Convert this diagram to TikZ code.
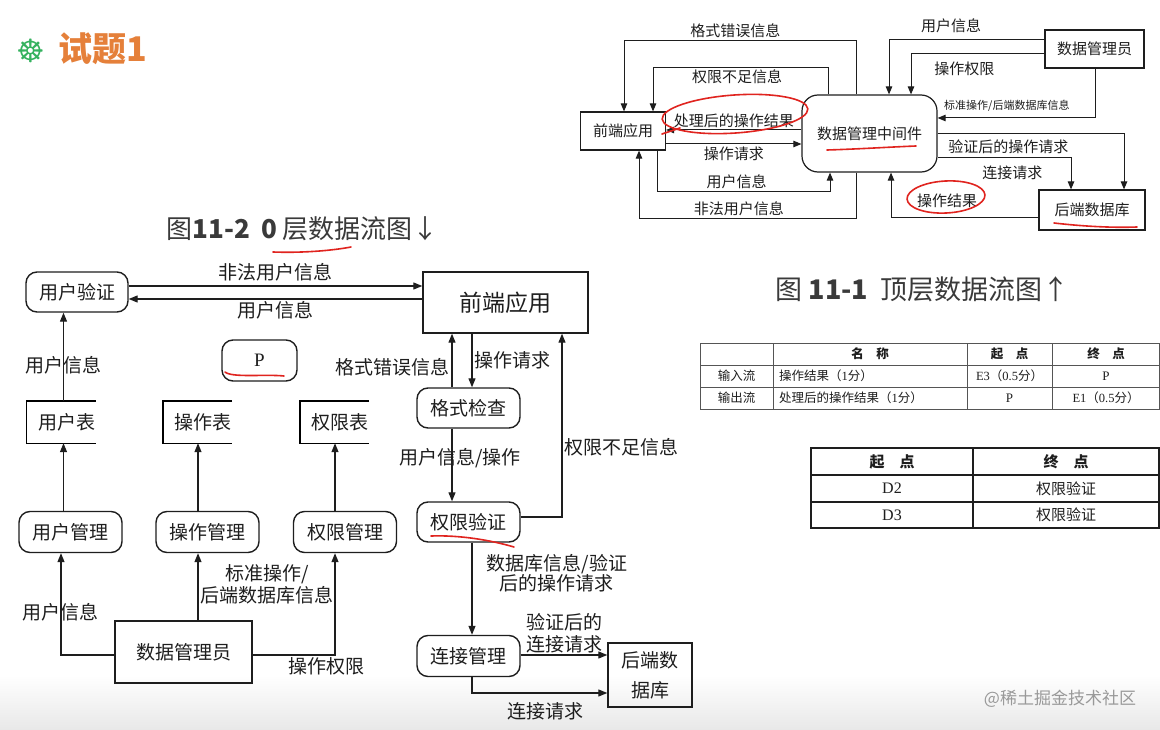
\documentclass[tikz,border=0pt]{standalone}
\usepackage{fontspec}
\setmainfont{Noto Sans CJK SC}
\newfontfamily\latserif{Liberation Serif}
\newfontfamily\symfont{DejaVu Sans}
\usetikzlibrary{arrows.meta,calc}
\definecolor{ink}{HTML}{1E1E1E}
\definecolor{pen}{HTML}{E0241F}
\definecolor{titleorange}{HTML}{E5803A}
\definecolor{wheelgreen}{HTML}{35B25F}
\definecolor{caption}{HTML}{3A3A3A}
\definecolor{rule}{HTML}{555555}
\newcommand\fpt[2]{\fontsize{#1}{#2}\selectfont}

\begin{document}
\begin{tikzpicture}[x=1pt,y=-1pt,text=ink,>={Triangle[length=9pt,width=7pt]},
  box/.style={draw=ink,line width=1.4pt,inner sep=0pt,font=\fpt{19}{22}},
  proc/.style={box,rounded corners=11pt,minimum width=103pt,minimum height=41pt},
  ent/.style={box},
  store/.style={font=\fpt{19}{22},minimum width=58pt,minimum height=42pt,inner xsep=0pt},
  flow/.style={draw=ink,line width=1.2pt,->},
  lbl/.style={font=\fpt{19}{22},align=center,inner sep=2pt},
  tbox/.style={draw=ink,line width=1.2pt,inner sep=0pt,font=\fpt{15}{18}},
  tflow/.style={draw=ink,line width=1pt,-{Triangle[length=8pt,width=6.5pt]}},
  tlbl/.style={font=\fpt{15}{18},inner sep=2pt},
  redpen/.style={draw=pen,line width=1.6pt,line cap=round},
  cellA/.style={font=\fpt{12.5}{15},inner sep=1pt},
  cellB/.style={font=\fpt{15}{18},inner sep=1pt}]
  \useasboundingbox (0,0) rectangle (1160,730);
  \fill[white] (0,0) rectangle (1160,730);
  \shade[top color=white,bottom color=black!9] (0,675) rectangle (1160,730);

  % heading and captions
  \node[wheelgreen,font=\symfont\fpt{32}{32}] (wheel) at (31,51) {☸};
  \node[anchor=west,titleorange,font=\fpt{34}{36}\bfseries] (title) at (55,49) {试题1};
  \node[anchor=west,caption,font=\fpt{26}{30}] (cap2) at (163,229) {图\textbf{11-2\ \ 0}\,层数据流图↓};
  \node[anchor=west,caption,font=\fpt{27}{30}] (cap1) at (772,289) {图 \textbf{11-1}\ \ 顶层数据流图↑};

  % level-0 diagram
  \node[proc,minimum width=102pt,minimum height=40pt] (uv) at (77,292) {用户验证};
  \node[ent,minimum width=165pt,minimum height=61pt,font=\fpt{23}{26}] (fe) at (505.5,302.5) {前端应用};
  \node[proc,minimum width=75pt,font=\latserif\fpt{19}{22}] (p) at (259.5,360.5) {P};
  \node[store] (ut) at (66.5,422) {用户表};
  \node[store] (ot) at (203,422) {操作表};
  \node[store] (rt) at (340,422) {权限表};
  \foreach \s in {ut,ot,rt}
    \draw[line width=1.4pt] (\s.north east) -- ([xshift=-11pt]\s.north west) -- ([xshift=-11pt]\s.south west) -- (\s.south east);
  \node[proc] (um) at (70.5,532) {用户管理};
  \node[proc] (om) at (207.5,532) {操作管理};
  \node[proc] (rm) at (345,532) {权限管理};
  \node[ent,minimum width=137pt,minimum height=62pt] (dba) at (183.5,652) {数据管理员};
  \node[proc,minimum height=40pt] (chk) at (468.5,408) {格式检查};
  \node[proc,minimum height=40pt] (auth) at (468.5,522) {权限验证};
  \node[proc] (conn) at (468.5,656) {连接管理};
  \node[ent,minimum width=84pt,minimum height=64pt,align=center,font=\fpt{19}{30}] (bdb) at (650,675) {后端数\\据库};

  \draw[flow] ([yshift=6pt]uv.east) -- ([yshift=6pt]uv.east -| fe.west) node[midway,lbl,above=2pt]{非法用户信息};
  \draw[flow] ([yshift=3.5pt]fe.west) -- ([yshift=3.5pt]fe.west -| uv.east) node[midway,lbl,below]{用户信息};
  \draw[flow] ([xshift=-3pt]ut.north) -- ([xshift=-3pt]ut.north |- uv.south) node[pos=0.4,lbl]{用户信息};
  \draw[flow] ([xshift=-7pt]um.north) -- ([xshift=-7pt]um.north |- ut.south);
  \draw[flow] ([xshift=-9.5pt]om.north) -- ([xshift=-9.5pt]om.north |- ot.south);
  \draw[flow] ([xshift=-10pt]rm.north) -- ([xshift=-10pt]rm.north |- rt.south);
  \draw[flow] ([yshift=-3pt]dba.west) -| ([xshift=-9.5pt]um.south) node[pos=0.71,lbl]{用户信息};
  \draw[flow] ([xshift=14.5pt]dba.north) -- ([xshift=14.5pt]dba.north |- om.south) node[pos=0.54,lbl,right=0pt]{标准操作/\\后端数据库信息};
  \draw[flow] ([yshift=-3pt]dba.east) -| ([xshift=-10pt]rm.south) node[pos=0.45,lbl,below]{操作权限};
  \draw[flow] ([xshift=-16.5pt]chk.north) -- ([xshift=-16.5pt]chk.north |- fe.south) node[pos=0.38,lbl,left]{格式错误信息};
  \draw[flow] ([xshift=-33.5pt]fe.south) -- ([xshift=-33.5pt]fe.south |- chk.north) node[midway,lbl,right]{操作请求};
  \draw[flow] ([xshift=-16.5pt]chk.south) -- ([xshift=-16.5pt]chk.south |- auth.north) node[pos=0.4,lbl,xshift=8pt]{用户信息/操作};
  \draw[flow] ([yshift=5pt]auth.east) -| ([xshift=56.5pt]fe.south) node[pos=0.69,lbl,right]{权限不足信息};
  \draw[flow] ([xshift=3.5pt]auth.south) -- ([xshift=3.5pt]auth.south |- conn.north) node[pos=0.33,lbl,font=\fpt{19}{20},right=12pt]{数据库信息/验证\\后的操作请求};
  \draw[flow] ([yshift=1pt]conn.east) -- ([yshift=1pt]conn.east -| bdb.west) node[midway,lbl,above=-1pt]{验证后的\\连接请求};
  \draw[flow] ([xshift=3.5pt]conn.south) |- ([yshift=-18pt]bdb.west) node[pos=0.77,lbl,below=7pt]{连接请求};

  % context diagram
  \node[tbox,minimum width=85pt,minimum height=38pt] (tfe) at (623,131) {前端应用};
  \node[tbox,rounded corners=16pt,minimum width=135pt,minimum height=77pt] (mid) at (869.5,133.5) {数据管理中间件};
  \node[tbox,minimum width=99pt,minimum height=38pt] (tdba) at (1094.5,49) {数据管理员};
  \node[tbox,minimum width=106pt,minimum height=40pt] (tbdb) at (1092,210) {后端数据库};

  \draw[tflow] ([xshift=-13.5pt]mid.north) -- ++(0,-54) -| ([xshift=1pt]tfe.north) node[pos=0.26,tlbl,above]{格式错误信息};
  \draw[tflow] ([xshift=-41.5pt]mid.north) -- ++(0,-27) -| ([xshift=30pt]tfe.north) node[pos=0.26,tlbl,below]{权限不足信息};
  \draw[tflow] ([yshift=3.5pt]mid.west) -- ([yshift=3.5pt]mid.west -| tfe.east) node[midway,tlbl,above]{处理后的操作结果};
  \draw[tflow] ([yshift=-13pt]tfe.east) -- ([yshift=-13pt]tfe.east -| mid.west) node[midway,tlbl,below]{操作请求};
  \draw[tflow] ([xshift=34pt]tfe.south) -- ++(0,41) -| ([xshift=-39.5pt]mid.south) node[pos=0.23,tlbl,above]{用户信息};
  \draw[tflow] ([xshift=-13.5pt]mid.south) -- ++(0,46) -| ([xshift=16pt]tfe.south) node[pos=0.27,tlbl,above]{非法用户信息};
  \draw[tflow] ([yshift=9pt]tdba.west) -| ([xshift=19.5pt]mid.north) node[pos=0.3,tlbl,above=5pt]{用户信息};
  \draw[tflow] ([yshift=-5pt]tdba.west) -| ([xshift=41.5pt]mid.north) node[pos=0.3,tlbl,below=5pt]{操作权限};
  \draw[tflow] ([xshift=0.5pt]tdba.south) |- ([yshift=15.5pt]mid.east) node[pos=0.78,tlbl,font=\fpt{11}{13},above=4pt]{标准操作/后端数据库信息};
  \draw[tflow] (mid.east) -| ([xshift=32pt]tbdb.north) node[pos=0.19,tlbl,below=4pt]{验证后的操作请求};
  \draw[tflow] ([yshift=-24.5pt]mid.east) -| ([xshift=-21pt]tbdb.north) node[pos=0.28,tlbl,below=5pt]{连接请求};
  \draw[tflow] ([yshift=-8pt]tbdb.west) -| ([xshift=21.5pt]mid.south) node[pos=0.31,tlbl,above=8pt]{操作结果};

  % hand-drawn red marks
  \draw[redpen,rotate around={4:(735,114)}] (735,114) ellipse [x radius=73,y radius=19];
  \draw[redpen] (662,134) -- (680,128);
  \draw[redpen] (827,150) .. controls (860,149) and (890,147) .. (916,146);
  \draw[redpen,rotate around={3:(946,197)}] (946,197) ellipse [x radius=39,y radius=16];
  \draw[redpen] (1054,223) .. controls (1080,226) and (1110,228) .. (1137,227);
  \draw[redpen] (273,252) .. controls (300,253) and (330,251) .. (351,247);
  \draw[redpen] (225,372) .. controls (232,378) and (265,374) .. (284,376);
  \draw[redpen] (431,536) .. controls (460,535) and (490,540) .. (514,547);

  % answer table 1
  \draw[rule,line width=0.9pt] (700,343) rectangle (1159,409);
  \foreach \yy in {365,387} \draw[rule,line width=0.9pt] (700,\yy) -- (1159,\yy);
  \foreach \xx in {773,967,1052} \draw[rule,line width=0.9pt] (\xx,343) -- (\xx,409);
  \node[cellA] (ha) at (870,354) {\textbf{名\quad 称}};
  \node[cellA] (hb) at (1009.5,354) {\textbf{起\quad 点}};
  \node[cellA] (hc) at (1106,354) {\textbf{终\quad 点}};
  \node[cellA] (ra) at (736.5,376) {输入流};
  \node[cellA,anchor=west] (rb) at (778,376) {操作结果（{\latserif 1}分）};
  \node[cellA] (rc) at (1009.5,376) {{\latserif E3}（{\latserif 0.5}分）};
  \node[cellA,font=\latserif\fpt{13}{15}] (rd) at (1106,376) {P};
  \node[cellA] (sa) at (736.5,398) {输出流};
  \node[cellA,anchor=west] (sb) at (778,398) {处理后的操作结果（{\latserif 1}分）};
  \node[cellA,font=\latserif\fpt{13}{15}] (sc) at (1009.5,398) {P};
  \node[cellA] (sd) at (1106,398) {{\latserif E1}（{\latserif 0.5}分）};

  % answer table 2
  \draw[ink,line width=1.1pt] (811,448) rectangle (1159,528);
  \foreach \yy in {475,502} \draw[ink,line width=1.1pt] (811,\yy) -- (1159,\yy);
  \draw[ink,line width=1.1pt] (973,448) -- (973,528);
  \node[cellB] (ka) at (892,461.5) {\textbf{起\quad 点}};
  \node[cellB] (kb) at (1066,461.5) {\textbf{终\quad 点}};
  \node[cellB,font=\latserif\fpt{16}{18}] (la) at (892,488.5) {D2};
  \node[cellB] (lb) at (1066,488.5) {权限验证};
  \node[cellB,font=\latserif\fpt{16}{18}] (ma) at (892,515) {D3};
  \node[cellB] (mb) at (1066,515) {权限验证};

  \node[font=\fpt{17}{18},black!40] (wm) at (1060,699) {@稀土掘金技术社区};
\end{tikzpicture}
\end{document}
